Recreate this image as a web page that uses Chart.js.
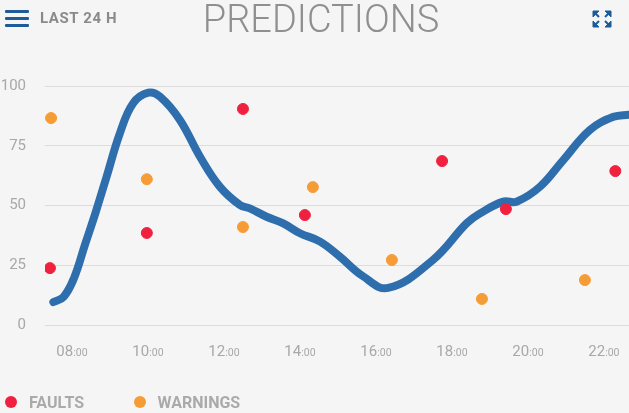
<!DOCTYPE html>
<html><head><meta charset="utf-8">
<script src="https://cdn.jsdelivr.net/npm/chart.js@4.4.0/dist/chart.umd.min.js"></script>
<style>
html,body{margin:0;padding:0;background:#f5f5f5;width:629px;height:413px;overflow:hidden;font-family:Roboto,"Open Sans",sans-serif;}
#wrap{position:absolute;left:0;top:0;width:629px;height:413px;}
.hdr{position:absolute;color:#9a9a9a;}
#menu{left:5px;top:10px;width:24px;height:18px;}
#menu span{display:block;height:3px;background:#1d5c99;margin-bottom:4px;border-radius:1px;}
#last{left:40px;top:11px;font-size:15px;line-height:15px;font-weight:bold;color:#8a8a8a;letter-spacing:0.6px;}
#title{left:0;width:642px;text-align:center;top:0;font-size:38px;line-height:38px;font-weight:300;color:#8f8f8f;}
#exp{left:591px;top:9px;}
#legend{position:absolute;left:0;top:394px;height:18px;font-size:16px;font-weight:bold;color:#aaaaaa;}
#legend .it{position:absolute;top:0;white-space:nowrap;line-height:18px;}
#legend .dot{position:absolute;top:2px;width:12px;height:12px;border-radius:50%;}
</style></head>
<body>
<div id="wrap"><canvas id="c" width="629" height="413"></canvas></div>
<div class="hdr" id="menu"><span></span><span></span><span></span></div>
<div class="hdr" id="last">LAST 24 H</div>
<div class="hdr" id="title">PREDICTIONS</div>
<svg class="hdr" id="exp" width="22" height="20" viewBox="0 0 22 20">
<g fill="#1d5c99" stroke="#1d5c99" stroke-width="2">
<path d="M2 2 L8 2 L2 8 Z" stroke-width="1"/><line x1="3" y1="3" x2="8" y2="8"/>
<path d="M20 2 L14 2 L20 8 Z" stroke-width="1"/><line x1="19" y1="3" x2="14" y2="8"/>
<path d="M2 18 L8 18 L2 12 Z" stroke-width="1"/><line x1="3" y1="17" x2="8" y2="12"/>
<path d="M20 18 L14 18 L20 12 Z" stroke-width="1"/><line x1="19" y1="17" x2="14" y2="12"/>
</g></svg>
<div id="legend"></div>
<script>
// Data (x = hour of day)
const predictionHours = [7.51, 7.78, 8.05, 8.35, 8.62, 8.91, 9.26, 9.61, 10.01, 10.32, 10.84, 11.37, 11.89, 12.42, 12.68, 13.12, 13.56, 14.0, 14.53, 15.05, 15.65, 16.32, 17.5, 18.39, 18.74, 19.35, 19.7, 20.32, 20.93, 21.63, 22.25, 22.66];
const predictionValues = [9.6, 11.8, 19.5, 34, 47, 62, 80.2, 92.8, 97.2, 95.5, 85.8, 70.4, 57.9, 50.2, 48.8, 45.3, 42.5, 38.4, 34.9, 28.6, 20.5, 15.5, 27.2, 42.6, 46.7, 51.6, 51.6, 57.9, 69, 81.6, 87.1, 88];
const faultHours = [7.42, 9.97, 12.5, 14.13, 17.74, 19.42, 22.3];
const faultValues = [23.8, 38.5, 90.4, 46, 68.6, 48.5, 64.4];
const warningHours = [7.45, 9.97, 12.5, 14.34, 16.42, 18.79, 21.5];
const warningValues = [86.6, 61, 41, 57.7, 27.2, 10.9, 18.8];
const xTickValues = [8, 10, 12, 14, 16, 18, 20, 22];
const xTickLabels = ['08:00', '10:00', '12:00', '14:00', '16:00', '18:00', '20:00', '22:00'];
const yTickValues = [0, 25, 50, 75, 100];

const toPts = (xs, ys) => xs.map((x, i) => ({x: x, y: ys[i]}));

const tickPlugin = {
  id: 'mixedTicks',
  afterDraw(chart) {
    const s = chart.scales.x, ctx = chart.ctx;
    ctx.save();
    ctx.fillStyle = '#a8a8a8';
    ctx.textBaseline = 'alphabetic';
    xTickValues.forEach((v, i) => {
      const parts = xTickLabels[i].split(':');
      const big = parts[0], small = ':' + parts[1];
      ctx.font = '15px Roboto';
      const w1 = ctx.measureText(big).width;
      ctx.font = '10.5px Roboto';
      const w2 = ctx.measureText(small).width;
      const x0 = s.getPixelForValue(v) - (w1 + w2) / 2;
      const y0 = chart.chartArea.bottom + 31;
      ctx.font = '15px Roboto';
      ctx.fillText(big, x0, y0);
      ctx.font = '10.5px Roboto';
      ctx.fillText(small, x0 + w1, y0);
    });
    ctx.restore();
  }
};

const chart = new Chart(document.getElementById('c'), {
  data: {
    datasets: [
      {type: 'line', label: 'PREDICTION', data: toPts(predictionHours, predictionValues),
       borderColor: '#2f6ead', borderWidth: 8, pointRadius: 0, tension: 0.4, fill: false, order: 2, borderCapStyle: 'round'},
      {type: 'scatter', label: 'FAULTS', data: toPts(faultHours, faultValues),
       backgroundColor: '#f0213f', borderColor: '#f0213f', pointRadius: 5.5, order: 1},
      {type: 'scatter', label: 'WARNINGS', data: toPts(warningHours, warningValues),
       backgroundColor: '#f69c36', borderColor: '#f69c36', pointRadius: 5.5, order: 1}
    ]
  },
  options: {
    responsive: false,
    animation: false,
    layout: {autoPadding: false, padding: {top: 86, right: 0, left: 0, bottom: 48}},
    scales: {
      x: {type: 'linear', min: 7.29, max: 22.66,
          afterBuildTicks: (s) => { s.ticks = xTickValues.map(v => ({value: v})); },
          afterFit: (s) => { s.height = 40; },
          grid: {display: false}, border: {display: false},
          ticks: {color: 'transparent', callback: () => ''}},
      y: {min: 0, max: 100,
          afterBuildTicks: (s) => { s.ticks = yTickValues.map(v => ({value: v})); },
          afterFit: (s) => { s.width = 45; },
          grid: {color: '#dcdcdc', drawTicks: false, lineWidth: 1}, border: {display: false},
          ticks: {color: '#a8a8a8', font: {size: 15, family: 'Roboto'}, padding: 19}}
    },
    plugins: {
      tooltip: {enabled: false},
      legend: {display: false}
    }
  },
  plugins: [tickPlugin]
});

// HTML legend built from the chart's scatter datasets
const legendX = [[5, 29], [133.5, 157.5]];
const lg = document.getElementById('legend');
chart.data.datasets.slice(1).forEach((ds, i) => {
  const dot = document.createElement('span');
  dot.className = 'dot'; dot.style.left = legendX[i][0] + 'px'; dot.style.background = ds.backgroundColor;
  const t = document.createElement('span');
  t.className = 'it'; t.style.left = legendX[i][1] + 'px'; t.textContent = ds.label;
  lg.appendChild(dot); lg.appendChild(t);
});
</script>
</body></html>
